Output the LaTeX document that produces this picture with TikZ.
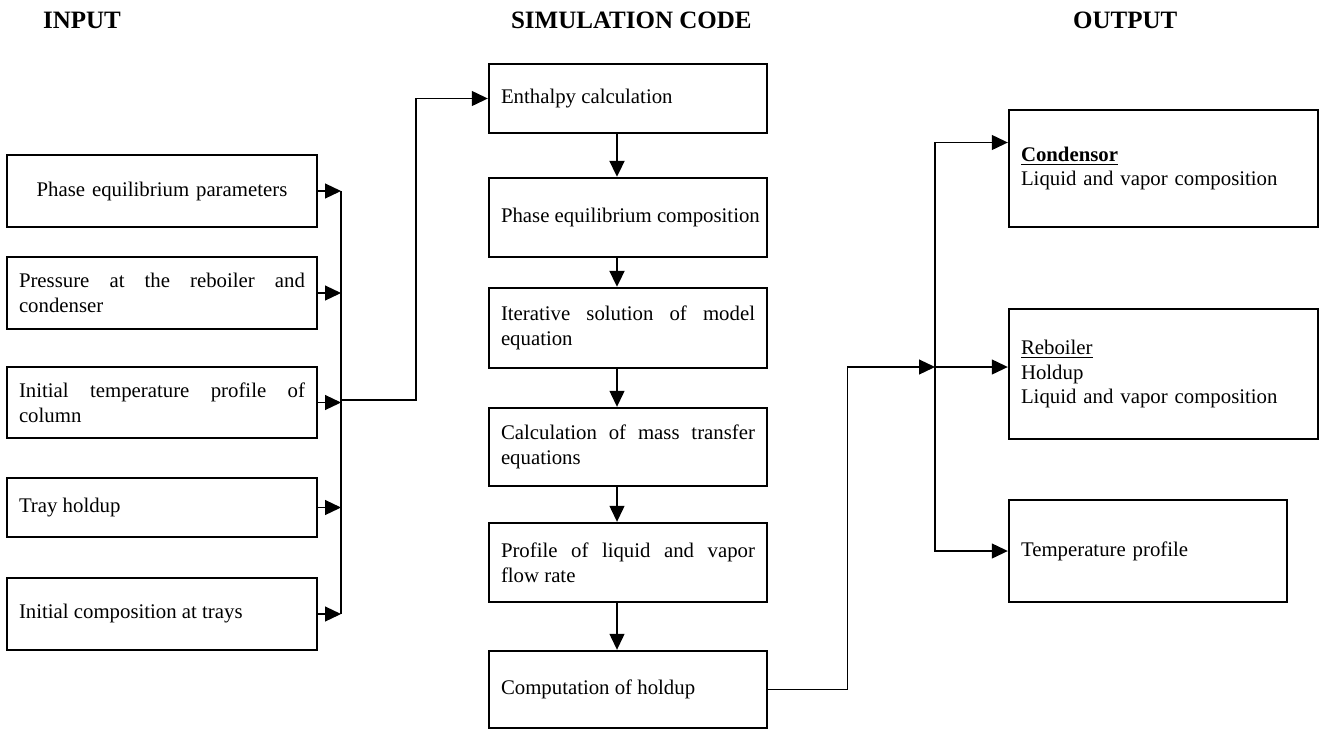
\documentclass[tikz,border=0pt]{standalone}
\usepackage{fontspec}
\setmainfont{Liberation Serif}
\usetikzlibrary{arrows.meta}
\hyphenpenalty=10000
\exhyphenpenalty=10000

\begin{document}
\begin{tikzpicture}[x=0.5pt,y=-0.5pt,
		box/.style={draw,line width=1.2pt,inner xsep=6pt,inner ysep=0pt,font=\fontsize{10.4pt}{12.3pt}\selectfont,align=justify},
		inbox/.style={box,text width=143pt},
		simbox/.style={box,text width=127pt},
		outbox/.style={box,text width=142.5pt,align=left},
		title/.style={anchor=base west,font=\fontsize{12.5pt}{15pt}\selectfont\bfseries},
		conn/.style={line width=0.6pt,-{Triangle[length=8pt,width=7.5pt]}},
		bus/.style={line width=0.6pt}]
	\useasboundingbox (0,0) rectangle (1328,729);
	\node[title] (tin) at (36,28) {INPUT};
	\node[title] (tsim) at (504,28) {SIMULATION CODE};
	\node[title] (tout) at (1066,28) {OUTPUT};

	\node[inbox,align=center,minimum height=36pt] (in1) at (162,191) {Phase equilibrium parameters};
	\node[inbox,minimum height=36pt] (in2) at (162,293) {Pressure at the reboiler and condenser};
	\node[inbox,minimum height=35.5pt] (in3) at (162,402.5) {Initial temperature profile of column};
	\node[inbox,minimum height=29.5pt] (in4) at (162,507.5) {Tray holdup};
	\node[inbox,minimum height=36pt] (in5) at (162,614) {Initial composition at trays};

	\node[simbox,minimum height=34.5pt] (sim1) at (628,98.5) {Enthalpy calculation};
	\node[simbox,minimum height=39.5pt] (sim2) at (628,217.5) {\mbox{Phase equilibrium composition}};
	\node[simbox,minimum height=40pt] (sim3) at (628,328) {Iterative solution of model equation};
	\node[simbox,minimum height=39pt] (sim4) at (628,447) {Calculation of mass transfer equations};
	\node[simbox,minimum height=39.5pt] (sim5) at (628,562.5) {Profile of liquid and vapor flow rate};
	\node[simbox,minimum height=38.5pt] (sim6) at (628,689.5) {Computation of holdup};

	\node[outbox,minimum height=58.5pt] (out1) at (1163.5,168.5) {\textbf{\underline{Condensor}}\\Liquid and vapor composition};
	\node[outbox,minimum height=65pt] (out2) at (1163.5,374) {\underline{Reboiler}\\Holdup\\Liquid and vapor composition};
	\node[outbox,text width=127pt,minimum height=51pt] (out3) at (1148,551) {Temperature profile};

	\coordinate (busL) at (341,400);
	\coordinate (busR) at (935,367);
	\foreach \i in {1,...,5}
		\draw[conn] (in\i.east) -- (in\i.east -| busL);
	\draw[bus] (in1.east -| busL) -- (in5.east -| busL);
	\draw[conn] (busL) -- ++(75,0) |- (sim1.west);

	\draw[conn,line width=1pt] ([xshift=-5.5pt]sim1.south) -- ([xshift=-5.5pt]sim2.north);
	\draw[conn,line width=1pt] ([xshift=-5.5pt]sim2.south) -- ([xshift=-5.5pt]sim3.north);
	\foreach \a/\b in {sim3/sim4,sim4/sim5,sim5/sim6}
		\draw[conn] ([xshift=-5.5pt]\a.south) -- ([xshift=-5.5pt]\b.north);

	\draw[conn] (sim6.east) -- ++(79,0) |- (busR);
	\draw[conn] (busR) |- ([yshift=13pt]out1.west);
	\draw[conn] (busR) -- (busR -| out2.west);
	\draw[conn] (busR) |- (out3.west);
\end{tikzpicture}
\end{document}
